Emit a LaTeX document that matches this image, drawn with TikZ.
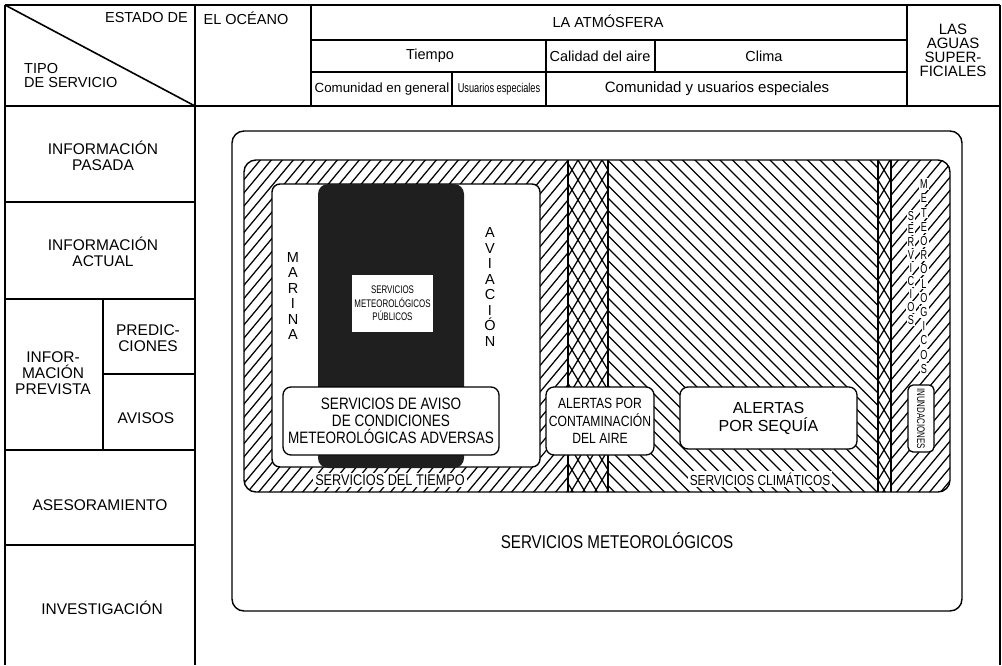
\documentclass[tikz,border=0pt]{standalone}
\usepackage{fontspec}
\setmainfont{Liberation Sans}
\newfontfamily\condA[FakeStretch=0.82]{Liberation Sans}
\newfontfamily\condB[FakeStretch=0.72]{Liberation Sans}
\newfontfamily\condC[FakeStretch=0.7]{Liberation Sans}
\begin{document}
\begin{tikzpicture}[x=1pt,y=-1pt,
  gridline/.style={line width=1.6pt},
  hl/.style={line width=1.25pt},
  edge/.style={line width=1.4pt},
  hdr/.style={font=\fontsize{14.5}{14}\selectfont, inner sep=0pt, align=center},
  side/.style={font=\fontsize{15.5}{16}\selectfont, inner sep=0pt, align=center},
  roundbox/.style={draw, line width=1.3pt, fill=white, rounded corners=8pt, inner sep=0pt, align=center},
  vletter/.style={font=\condC\fontsize{13}{13}\selectfont, fill=white, inner xsep=1pt, inner ysep=1.3pt},
  bandlabel/.style={fill=white, inner sep=2pt}
]
\useasboundingbox (0,0) rectangle (1002,665);
\fill[white] (0,0) rectangle (1002,665);

% ---------------- table grid ----------------
\draw[gridline] (5,5) -- (1000,5);
\draw[gridline] (5,5) -- (5,665);
\draw[gridline] (1000,5) -- (1000,665);
\draw[gridline] (195,5) -- (195,665);
\draw[gridline] (5,106) -- (1000,106);
\draw[gridline] (311,5) -- (311,106);
\draw[gridline] (907,5) -- (907,106);
\draw[gridline] (311,40) -- (907,40);
\draw[gridline] (311,72) -- (907,72);
\draw[gridline] (546,40) -- (546,106);
\draw[gridline] (655,40) -- (655,72);
\draw[gridline] (452,72) -- (452,106);
\draw[gridline] (5,5) -- (195,106);
% left column
\draw[gridline] (5,202) -- (195,202);
\draw[gridline] (5,299) -- (195,299);
\draw[gridline] (5,450) -- (195,450);
\draw[gridline] (5,545) -- (195,545);
\draw[gridline] (103,299) -- (103,450);
\draw[gridline] (103,374) -- (195,374);

% ---------------- header texts ----------------
\node[hdr, anchor=east] (estado) at (188,18) {ESTADO DE};
\node[hdr, anchor=west, align=left] (tipo) at (24,76) {TIPO\\DE SERVICIO};
\node[hdr] (oceano) at (246,18) {EL OCÉANO};
\node[hdr] (atmos) at (608,21) {LA ATMÓSFERA};
\node[hdr] (tiempo) at (430,56) {Tiempo};
\node[hdr] (calidad) at (600,56) {Calidad del aire};
\node[hdr] (clima) at (764,56) {Clima};
\node[hdr, font=\fontsize{13.3}{13}\selectfont] (comgen) at (382,89) {Comunidad en general};
\node[hdr, font=\condB\fontsize{12.8}{13}\selectfont] (usesp) at (499,89) {Usuarios especiales};
\node[hdr, font=\fontsize{15}{14}\selectfont] (comyus) at (717,89) {Comunidad y usuarios especiales};
\node[hdr, font=\fontsize{15}{14}\selectfont] (aguas) at (953,50) {LAS\\AGUAS\\SUPER-\\FICIALES};

% ---------------- left column texts ----------------
\node[side] (pasada) at (103,156) {INFORMACIÓN\\PASADA};
\node[side] (actual) at (103,252) {INFORMACIÓN\\ACTUAL};
\node[side] (prevista) at (53,373) {INFOR-\\MACIÓN\\PREVISTA};
\node[side] (predic) at (148,338) {PREDIC-\\CIONES};
\node[side] (avisos) at (146,418) {AVISOS};
\node[side] (asesor) at (100,505) {ASESORAMIENTO};
\node[side] (investig) at (102,608) {INVESTIGACIÓN};

% ---------------- services area ----------------
\draw[edge, rounded corners=12pt] (232,131) rectangle (962,611);
\node[font=\condA\fontsize{18.5}{18}\selectfont, inner sep=0pt] (servmet) at (617,541) {SERVICIOS METEOROLÓGICOS};

% hatching
\begin{scope}
  \clip[rounded corners=12pt] (244,160) rectangle (950,492);
  % '/' hatching
  \begin{scope}
    \clip (240,150) rectangle (568,500) (891,150) rectangle (955,500);
    \foreach \i in {0,...,91} \draw[hl] ({-45+11*\i},500) -- ++(300,-360);
  \end{scope}
  % '\' hatching
  \begin{scope}
    \clip (608,150) rectangle (878,500);
    \foreach \i in {0,...,49} \draw[hl] ({250+12.5*\i},140) -- ++(360,360);
  \end{scope}
  % cross hatching
  \begin{scope}
    \clip (568,150) rectangle (608,500) (878,150) rectangle (891,500);
    \foreach \i in {0,...,45} {
      \draw[hl] ({350+12*\i},500) -- ++(216,-360);
      \draw[hl] ({350+12*\i},140) -- ++(216,360);
    }
  \end{scope}
\end{scope}
\draw[edge] (568,160) -- (568,492);
\draw[edge] (608,160) -- (608,492);
\draw[edge] (878,160) -- (878,492);
\draw[edge] (891,160) -- (891,492);
\draw[edge, rounded corners=12pt] (244,160) rectangle (950,492);

% weather services
\draw[edge, fill=white, rounded corners=8pt] (272,184) rectangle (540,467);
\fill[black!88, rounded corners=10pt] (318,184) rectangle (464,468);
\node[fill=white, minimum width=81pt, minimum height=57pt, inner sep=0pt, align=center,
      font=\condB\fontsize{11}{13.5}\selectfont] (publicos) at (392.5,303.5) {SERVICIOS\\METEOROLÓGICOS\\PÚBLICOS};
\node[align=center, inner sep=0pt, font=\fontsize{14.5}{15.5}\selectfont] (marina) at (293,296) {M\\A\\R\\I\\N\\A};
\node[align=center, inner sep=0pt, font=\fontsize{14.5}{15.5}\selectfont] (aviacion) at (490,287) {A\\V\\I\\A\\C\\I\\Ó\\N};
\node[roundbox, minimum width=216pt, minimum height=68pt, font=\condA\fontsize{16.5}{17}\selectfont] (aviso) at (391,421)
  {SERVICIOS DE AVISO\\DE CONDICIONES\\METEOROLÓGICAS ADVERSAS};
\node[bandlabel, font=\condA\fontsize{15.5}{15}\selectfont] (servtiempo) at (390,480) {SERVICIOS DEL TIEMPO};

% climate / air quality
\node[roundbox, minimum width=108pt, minimum height=68pt, font=\condA\fontsize{14.8}{17.5}\selectfont] (contam) at (600,421)
  {ALERTAS POR\\CONTAMINACIÓN\\DEL AIRE};
\node[roundbox, minimum width=177pt, minimum height=62pt, font=\fontsize{16}{18}\selectfont] (sequia) at (768.5,418)
  {ALERTAS\\POR SEQUÍA};
\node[bandlabel, font=\condA\fontsize{14.5}{14}\selectfont] (servclim) at (760,479) {SERVICIOS CLIMÁTICOS};

% hydrological
\foreach \l [count=\k] in {S,E,R,V,I,C,I,O,S}
  \node[vletter, name=sv\k] at (911,{203+13*\k}) {\l};
\foreach \l [count=\k] in {M,E,T,E,O,R,O,L,O,G,I,C,O,S}
  \node[vletter, name=mv\k] at (924,{170+14.2*\k}) {\l};
\node[roundbox, rounded corners=5pt, minimum width=26pt, minimum height=67pt] (inund) at (921,418.5) {};
\node[rotate=-90, inner sep=0pt, font=\condB\fontsize{11}{11}\selectfont] (inundt) at (inund) {INUNDACIONES};
\end{tikzpicture}
\end{document}
